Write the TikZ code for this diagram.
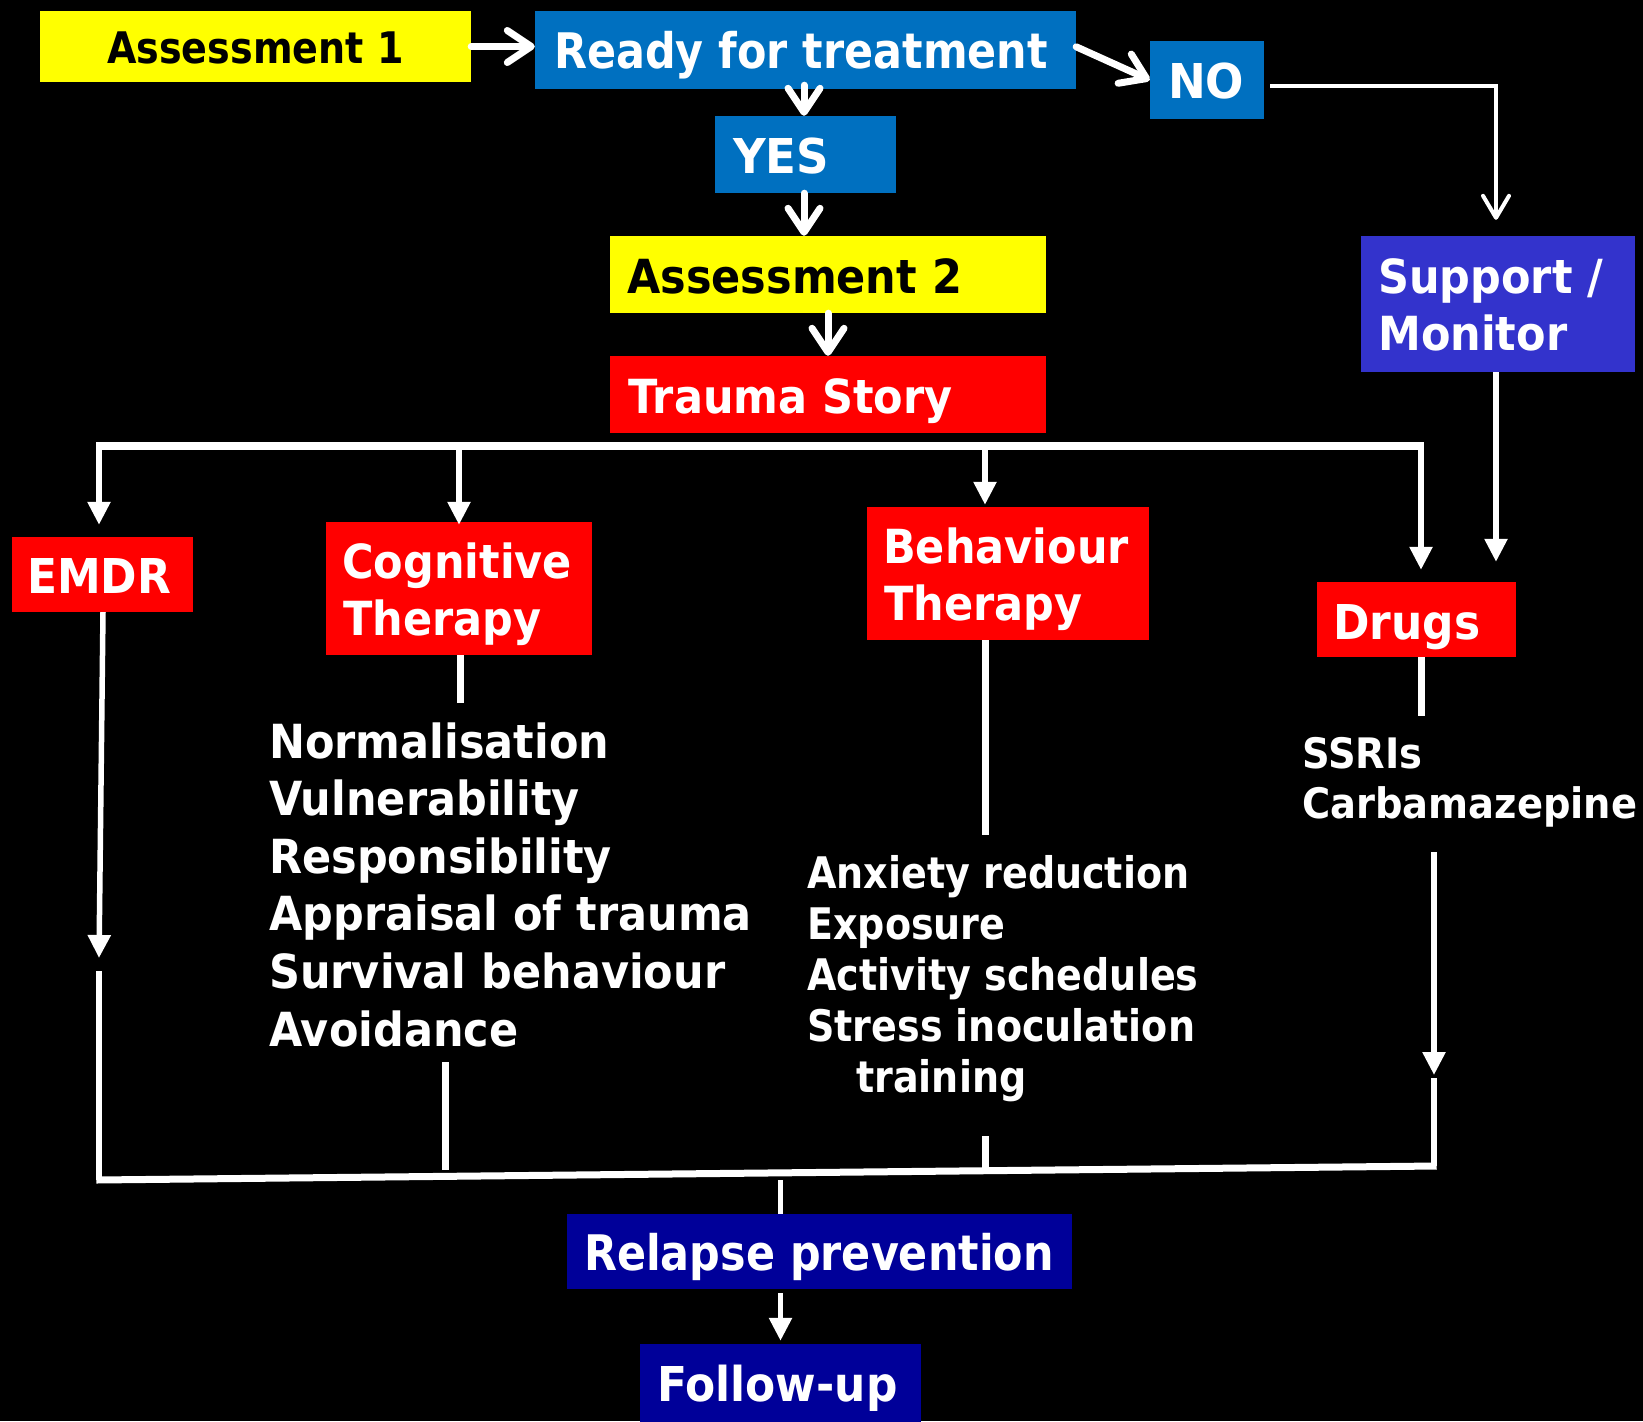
\documentclass[tikz,border=0pt]{standalone}
\usepackage{fontspec}
\newfontfamily\labA{DejaVu Sans}[FakeStretch=0.875]
\newfontfamily\labB{DejaVu Sans}[FakeStretch=0.915]
\newfontfamily\labC{DejaVu Sans}[FakeStretch=0.94]
\usetikzlibrary{arrows.meta,calc}
\definecolor{cyel}{HTML}{FFFF00}
\definecolor{cblue}{HTML}{0070C0}
\definecolor{cred}{HTML}{FF0000}
\definecolor{cnavy}{HTML}{000099}
\definecolor{cviolet}{HTML}{3333CC}
\begin{document}
\begin{tikzpicture}[x=1pt,y=-1pt,
  box/.style={rectangle, inner sep=0pt, draw=none, fill=#1},
  txt/.style={inner sep=0pt, anchor=base west, text=white,
    font=\labB\bfseries\fontsize{#1}{#1}\selectfont},
  ntxt/.style={txt=#1, font=\labA\bfseries\fontsize{#1}{#1}\selectfont},
  wtxt/.style={txt=#1, font=\labC\bfseries\fontsize{#1}{#1}\selectfont},
  chev/.style={draw=white, line width=7pt, line cap=round,
    -{Straight Barb[length=24pt 0, width=32pt 0, round]}},
  thinchev/.style={draw=white, line width=4pt,
    -{Straight Barb[length=22pt 0, width=26pt 0, round]}},
  tri/.style={draw=white, line width=5.5pt, -{Triangle[length=23pt 0, width=22pt 0]}},
  link/.style={draw=white, line width=#1},
  link/.default=5.5pt]
\fill[black] (0,0) rectangle (1643,1421);
\useasboundingbox (0,0) rectangle (1643,1421);

% boxes
\node[box=cyel,   minimum width=431pt, minimum height=71pt]  (a1)      at (255.5,46.5) {};
\node[box=cblue,  minimum width=541pt, minimum height=78pt]  (ready)   at (805.5,50) {};
\node[box=cblue,  minimum width=181pt, minimum height=77pt]  (yes)     at (805.5,154.5) {};
\node[box=cblue,  minimum width=114pt, minimum height=78pt]  (no)      at (1207,80) {};
\node[box=cyel,   minimum width=436pt, minimum height=77pt]  (a2)      at (828,274.5) {};
\node[box=cred,   minimum width=436pt, minimum height=77pt]  (trauma)  at (828,394.5) {};
\node[box=cviolet,minimum width=274pt, minimum height=136pt] (support) at (1498,304) {};
\node[box=cred,   minimum width=181pt, minimum height=75pt]  (emdr)    at (102,574.5) {};
\node[box=cred,   minimum width=266pt, minimum height=133pt] (cog)     at (459,588.5) {};
\node[box=cred,   minimum width=282pt, minimum height=133pt] (beh)     at (1008,573.5) {};
\node[box=cred,   minimum width=199pt, minimum height=75pt]  (drugs)   at (1416.5,619.5) {};
\node[box=cnavy,  minimum width=505pt, minimum height=75pt]  (relapse) at (819.5,1251.5) {};
\node[box=cnavy,  minimum width=281pt, minimum height=80pt]  (follow)  at (780.5,1384) {};

% box labels
\node[ntxt=43.5, text=black] (a1t) at (107,63.3) {Assessment 1};
\node[ntxt=49] (readyt) at (554,69) {Ready for treatment};
\node[wtxt=48] (yest) at (733,173.3) {YES};
\node[wtxt=48] (not) at (1168,98.3) {NO};
\node[txt=47, text=black] (a2t) at (627,293.3) {Assessment 2};
\node[txt=47] (traumat) at (628,413.3) {Trauma Story};
\node[txt=47] (supt1) at (1378,293.3) {Support /};
\node[txt=47] (supt2) at (1378,350) {Monitor};
\node[txt=48] (emdrt) at (27,593) {EMDR};
\node[txt=47] (cogt1) at (342,578) {Cognitive};
\node[txt=47] (cogt2) at (343,635) {Therapy};
\node[txt=47] (beht1) at (883,563) {Behaviour};
\node[txt=47] (beht2) at (884,620) {Therapy};
\node[txt=48] (drugst) at (1333,639) {Drugs};
\node[ntxt=49] (relt) at (584,1270.7) {Relapse prevention};
\node[txt=48] (folt) at (657,1401.7) {Follow-up};

% item lists
\foreach \t [count=\i from 0] in {Normalisation, Vulnerability, Responsibility,
    Appraisal of trauma, Survival behaviour, Avoidance}
  \node[txt=47] (cl\i) at (269,758+57.6*\i) {\t};
\foreach \t [count=\i from 0] in {Anxiety reduction, Exposure, Activity schedules,
    Stress inoculation}
  \node[ntxt=43.5] (bl\i) at (807,888+51*\i) {\t};
\node[ntxt=43.5] (bl4) at (856,1092.7) {training};
\node[txt=42] (dl0) at (1302,768) {SSRIs};
\node[txt=42] (dl1) at (1302,818.3) {Carbamazepine};

% upper flow
\draw[chev] (a1.east) -- (a1.east -| ready.west);
\draw[chev] ($(ready.north east)+(0,36)$) -- (no.west);
\draw[chev] ($(ready.south)+(-1.5,-4)$) -- ($(yes.north)+(-1.5,0)$);
\draw[chev] ($(yes.south)+(-1.5,0)$) -- ($(yes.south |- a2.north)+(-1.5,0)$);
\draw[chev] (a2.south) -- (trauma.north);
\coordinate (noOut) at ($(no.east)+(6,6)$);
\coordinate (supIn) at ($(support.north)+(-2,-16)$);
\draw[thinchev] (noOut) -| (supIn);

% distribution bus
\coordinate (busL) at (99,446);
\coordinate (busR) at (1421,446);
\draw[link=7.5pt] ($(busL)+(-2.7,0)$) -- ($(busR)+(2.7,0)$);
\draw[tri] (busL) -- ($(busL |- emdr.north)+(0,-12)$);
\draw[tri] (busL -| cog.north) -- ($(cog.north)+(0,3)$);
\draw[tri] (985,446) -- ($(985,446 |- beh.north)+(0,-2)$);
\draw[tri] (busR) -- ($(busR |- drugs.north)+(0,-12)$);
\draw[tri] ($(support.south)+(-2,0)$) -- ($(support.south |- drugs.north)+(-2,-20)$);

% from therapies to collector
\coordinate (colL) at (99,1180);
\coordinate (colR) at (1434,1166);
\draw[tri] ($(emdr.south)+(1,0)$) -- (99,958);
\draw[link] (99,971) -- (colL);
\draw[link=7pt] ($(cog.south)+(1,0)$) -- (460,703);
\draw[link=7pt] (445,1062) -- (445,1170);
\draw[link=7pt] (beh.south -| 985,0) -- (985,835);
\draw[link=7pt] (985,1136) -- (985,1168);
\draw[link=7pt] ($(drugs.south)+(4.5,0)$) -- (1421,716);
\draw[tri] (1434,852) -- (1434,1075);
\draw[link] (1434,1078) -- (colR);
\draw[link=7pt] ($(colL)+(-2.7,0)$) -- ($(colR)+(2.7,0)$);

% lower flow
\draw[link] (follow.north |- 0,1180) -- (follow.north |- relapse.north);
\draw[tri] ($(relapse.south -| follow.north)+(0,4)$) -- ($(follow.north)+(0,-3)$);
\end{tikzpicture}
\end{document}
